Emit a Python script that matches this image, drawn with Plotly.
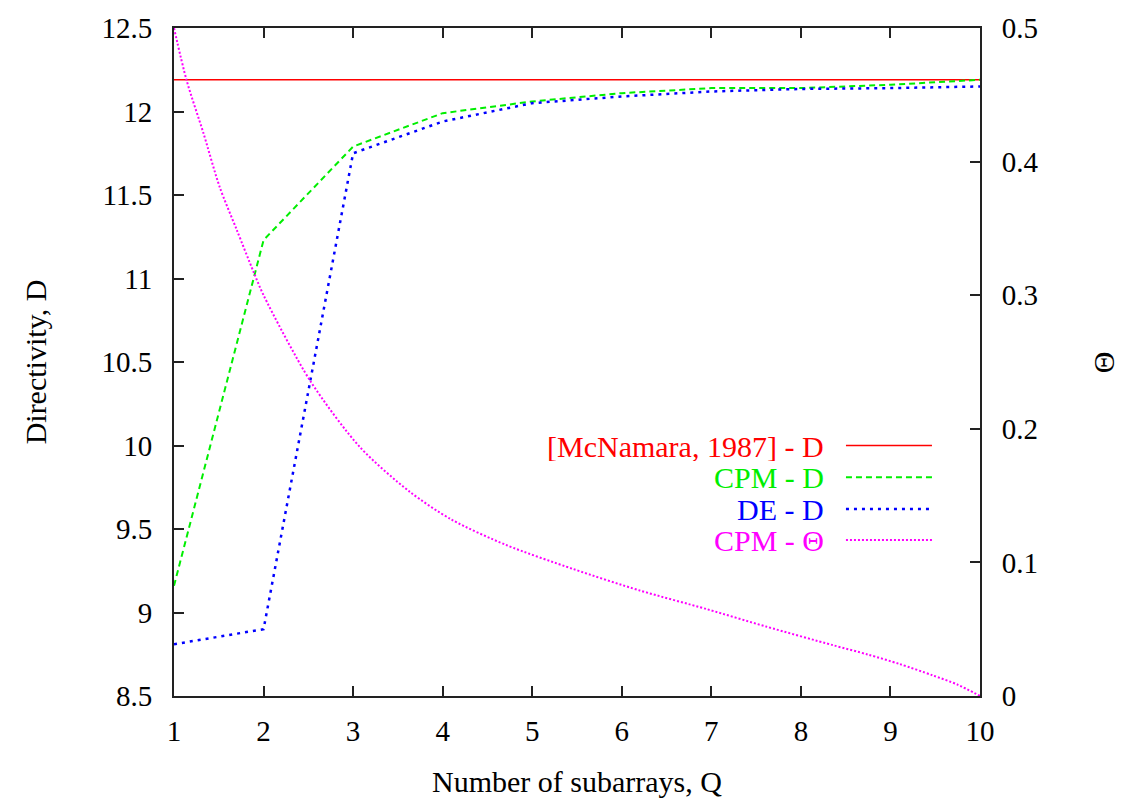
import plotly.graph_objects as go

# Data
Q = [1, 2, 3, 4, 5, 6, 7, 8, 9, 10]
mcnamara_D = [12.19] * 10
cpm_D = [9.16, 11.23, 11.79, 11.99, 12.06, 12.11, 12.14, 12.14, 12.16, 12.19]
de_D = [8.81, 8.90, 11.75, 11.94, 12.05, 12.09, 12.12, 12.135, 12.14, 12.15]
theta_Q = [1.0, 1.14, 1.33, 1.51, 1.70, 1.885, 2.0, 2.52, 3.08, 3.63, 4.10,
           4.71, 5.46, 6.2, 6.95, 7.61, 8.36, 8.75, 9.10, 9.47, 9.75, 10.0]
cpm_theta = [0.5, 0.461, 0.421, 0.381, 0.349, 0.318, 0.300, 0.236, 0.186, 0.153, 0.132,
             0.113, 0.095, 0.079, 0.065, 0.052, 0.038, 0.031, 0.024, 0.0155, 0.0085, 0.0]

x_ticks = [1, 2, 3, 4, 5, 6, 7, 8, 9, 10]
y_ticks = [8.5, 9, 9.5, 10, 10.5, 11, 11.5, 12, 12.5]
y_tick_text = ["8.5", "9", "9.5", "10", "10.5", "11", "11.5", "12", "12.5"]
y2_ticks = [0, 0.1, 0.2, 0.3, 0.4, 0.5]
y2_tick_text = ["0", "0.1", "0.2", "0.3", "0.4", "0.5"]

legend_labels = ["[McNamara, 1987] - D", "CPM - D", "DE - D", "CPM - Θ"]
colors = ["#ff0000", "#00ee00", "#0000ff", "#ff00ff"]
dashes = ["solid", "6px,4px", "3px,5px", "2px,2px"]

FONT = "Liberation Serif"
TS = 29
fig = go.Figure()
fig.add_trace(go.Scatter(x=Q, y=mcnamara_D, mode="lines",
                         line=dict(color=colors[0], width=1.5, dash=dashes[0]), showlegend=False))
fig.add_trace(go.Scatter(x=Q, y=cpm_D, mode="lines",
                         line=dict(color=colors[1], width=2, dash=dashes[1]), showlegend=False))
fig.add_trace(go.Scatter(x=Q, y=de_D, mode="lines",
                         line=dict(color=colors[2], width=2.5, dash=dashes[2]), showlegend=False))
fig.add_trace(go.Scatter(x=theta_Q, y=cpm_theta, mode="lines", yaxis="y2",
                         line=dict(color=colors[3], width=2, dash=dashes[3], shape="spline", smoothing=0.8),
                         showlegend=False))

axcol = "#222222"
fig.update_layout(
    width=1129, height=798,
    margin=dict(l=174, r=149, t=24, b=102),
    plot_bgcolor="white", paper_bgcolor="white",
    font=dict(family=FONT, size=TS, color="black"),
    xaxis=dict(range=[1, 10], tickvals=x_ticks, ticks="inside", ticklen=10, tickwidth=1.5, tickcolor=axcol,
               showline=True, linecolor=axcol, linewidth=2, mirror="ticks", showgrid=False,
               zeroline=False, ticklabelstandoff=8, tickfont=dict(family=FONT, size=TS)),
    yaxis=dict(range=[8.5, 12.5], tickvals=y_ticks, ticktext=y_tick_text, ticks="inside", ticklen=10,
               tickwidth=1.5, tickcolor=axcol,
               showline=True, linecolor=axcol, linewidth=2, showgrid=False, zeroline=False,
               ticklabelstandoff=14, tickfont=dict(family=FONT, size=TS)),
    yaxis2=dict(range=[0, 0.5], tickvals=y2_ticks, ticktext=y2_tick_text, ticks="inside", ticklen=10,
                tickwidth=1.5, tickcolor=axcol,
                overlaying="y", side="right", showline=True, linecolor=axcol, linewidth=2,
                showgrid=False, zeroline=False, ticklabelstandoff=14,
                tickfont=dict(family=FONT, size=TS)),
)

ann = [
    dict(text="Number of subarrays, Q", x=0.5, y=-0.1, xref="paper", yref="paper",
         xanchor="center", yanchor="top", showarrow=False, font=dict(size=30)),
    dict(text="Directivity, D", x=-0.172, y=0.5, xref="paper", yref="paper", textangle=-90,
         xanchor="center", yanchor="middle", showarrow=False, font=dict(size=30)),
    dict(text="Θ", x=1.153, y=0.5, xref="paper", yref="paper", textangle=-90,
         xanchor="center", yanchor="middle", showarrow=False, font=dict(size=30)),
]
shapes = []
leg_y = [0.375, 0.3274, 0.2798, 0.2336]
widths = [1.5, 2, 2.5, 2]
for lab, col, dsh, yy, w in zip(legend_labels, colors, dashes, leg_y, widths):
    ann.append(dict(text=lab, x=0.8077, y=yy, xref="paper", yref="paper", xanchor="right",
                    yanchor="middle", showarrow=False, font=dict(size=30, color=col),
                    height=30, borderpad=0))
    shapes.append(dict(type="line", xref="paper", yref="paper", x0=0.8337, x1=0.9404, y0=yy, y1=yy,
                       line=dict(color=col, width=w, dash=dsh)))
fig.update_layout(annotations=ann, shapes=shapes)
fig.write_html("out.html")
